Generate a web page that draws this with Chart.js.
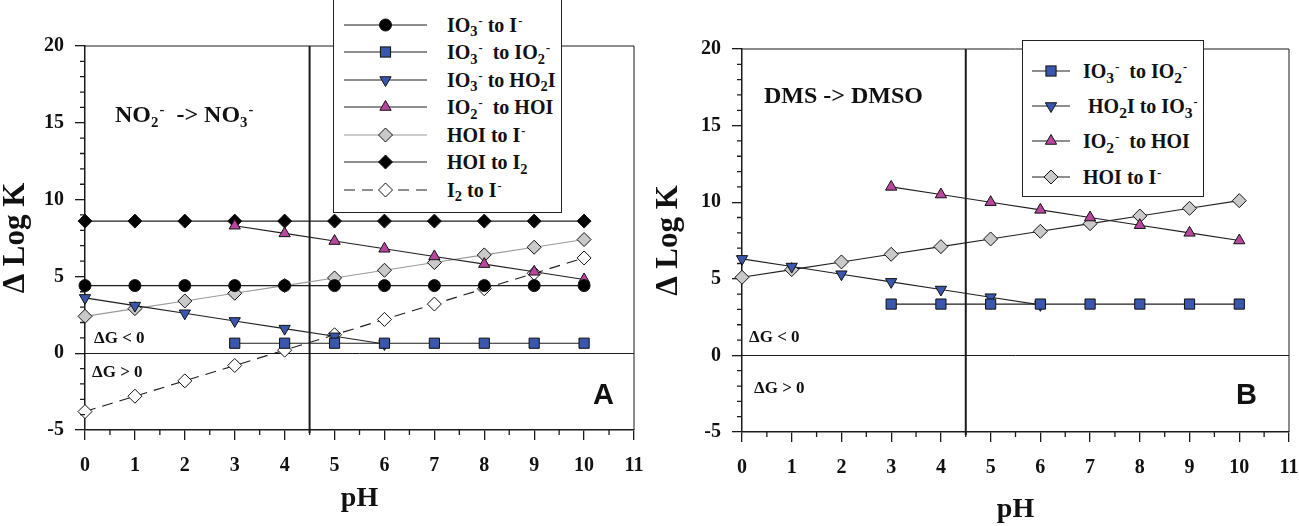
<!DOCTYPE html>
<html>
<head>
<meta charset="utf-8">
<script src="https://cdn.jsdelivr.net/npm/chart.js@4.4.1/dist/chart.umd.min.js"></script>
<style>
  body { margin: 0; background: #fff; }
  #page { position: relative; width: 1299px; height: 526px; overflow: hidden; font-family: "Liberation Serif", "Times New Roman", serif; color: #111; }
  canvas { position: absolute; top: 0; }
  #chartA { left: 0; }
  #chartB { left: 650px; }
  .note { position: absolute; font-weight: bold; white-space: nowrap; line-height: 1; }
  .letter { position: absolute; font-family: "Liberation Sans", Arial, sans-serif; font-weight: bold; font-size: 29px; line-height: 1; }
  sub, sup { font-size: 62%; position: relative; vertical-align: baseline; line-height: 0; }
  sub { top: 0.32em; }
  sup { top: -0.55em; margin-left: 1px; }
  .legend { position: absolute; border: 1px solid #222; background: #fff; box-sizing: border-box; }
  .legend .row { display: flex; align-items: center; font-weight: bold; font-size: 20px; line-height: 1; white-space: nowrap; }
  .legend svg { display: block; flex: none; }
  #legA sub { font-size: 72%; }
  #legB sub { font-size: 78%; }
</style>
</head>
<body>
<div id="page">
  <canvas id="chartA" width="650" height="526"></canvas>
  <canvas id="chartB" width="649" height="526"></canvas>

  <div id="legA" class="legend" style="left:333px; top:-1px; width:229px; height:214px; padding-top:11px;"></div>
  <div id="legB" class="legend" style="left:1022px; top:40px; width:182px; height:157px; padding-top:12px;"></div>

  <div class="note" style="left:115px; top:102px; font-size:24px;">NO<sub>2</sub><sup>-</sup>&nbsp; -&gt; NO<sub>3</sub><sup>-</sup></div>
  <div class="note" style="left:94px; top:329px; font-size:17px;">ΔG &lt; 0</div>
  <div class="note" style="left:92px; top:363px; font-size:17px;">ΔG &gt; 0</div>
  <div class="letter" style="left:593px; top:380px;">A</div>

  <div class="note" style="left:764px; top:83px; font-size:24px;">DMS -&gt; DMSO</div>
  <div class="note" style="left:749px; top:328px; font-size:17px;">ΔG &lt; 0</div>
  <div class="note" style="left:754px; top:379px; font-size:17px;">ΔG &gt; 0</div>
  <div class="letter" style="left:1236px; top:380px;">B</div>
</div>

<script>
// pH values the series are sampled at
const PH_ALL = [0, 1, 2, 3, 4, 5, 6, 7, 8, 9, 10];
const PH_FROM3 = [3, 4, 5, 6, 7, 8, 9, 10];
const PH_TO6 = [0, 1, 2, 3, 4, 5, 6];

// Panel A: NO2- -> NO3-
const A_IO3_TO_I = [4.4, 4.4, 4.4, 4.4, 4.4, 4.4, 4.4, 4.4, 4.4, 4.4, 4.4];
const A_IO3_TO_IO2 = [0.65, 0.65, 0.65, 0.65, 0.65, 0.65, 0.65, 0.65];
const A_IO3_TO_HO2I = [3.6, 3.1, 2.6, 2.1, 1.6, 1.1, 0.6];
const A_IO2_TO_HOI = [8.3, 7.8, 7.3, 6.8, 6.3, 5.8, 5.3, 4.8];
const A_HOI_TO_I = [2.4, 2.9, 3.4, 3.9, 4.4, 4.9, 5.4, 5.9, 6.4, 6.9, 7.4];
const A_HOI_TO_I2 = [8.6, 8.6, 8.6, 8.6, 8.6, 8.6, 8.6, 8.6, 8.6, 8.6, 8.6];
const A_I2_TO_I = [-3.8, -2.8, -1.8, -0.8, 0.2, 1.2, 2.2, 3.2, 4.2, 5.2, 6.2];

// Panel B: DMS -> DMSO
const B_IO3_TO_IO2 = [3.35, 3.35, 3.35, 3.35, 3.35, 3.35, 3.35, 3.35];
const B_HO2I_TO_IO3 = [6.3, 5.8, 5.3, 4.8, 4.3, 3.8, 3.3];
const B_IO2_TO_HOI = [11.0, 10.5, 10.0, 9.5, 9.0, 8.5, 8.0, 7.5];
const B_HOI_TO_I = [5.1, 5.6, 6.1, 6.6, 7.1, 7.6, 8.1, 8.6, 9.1, 9.6, 10.1];

// axis ranges and tick steps
const X_MIN = 0, X_MAX = 11, X_STEP = 1;
const Y_MIN = -5, Y_MAX = 20, Y_STEP = 5;
const PH_MARK = 4.5;

// legend texts (with sub/superscripts)
const LEGEND_A = [
  'IO<sub>3</sub><sup>-</sup> to I<sup>-</sup>',
  'IO<sub>3</sub><sup>-</sup>&nbsp; to IO<sub>2</sub><sup>-</sup>',
  'IO<sub>3</sub><sup>-</sup> to HO<sub>2</sub>I',
  'IO<sub>2</sub><sup>-</sup>&nbsp; to HOI',
  'HOI to I<sup>-</sup>',
  'HOI to I<sub>2</sub>',
  'I<sub>2</sub> to I<sup>-</sup>'
];
const LEGEND_B = [
  'IO<sub>3</sub><sup>-</sup>&nbsp; to IO<sub>2</sub><sup>-</sup>',
  '&nbsp;HO<sub>2</sub>I to IO<sub>3</sub><sup>-</sup>',
  'IO<sub>2</sub><sup>-</sup>&nbsp; to HOI',
  'HOI to I<sup>-</sup>'
];

const TEXT = '#111';
const AXIS = '#1a1a1a';
const LINE = '#1e1e1e';
const BLUE = '#3a57ad';
const MAGENTA = '#b8479e';
const GREY = '#c9c9c9';

const MARK = {
  circle:  { pointStyle: 'circle', pointRadius: 6, pointBackgroundColor: '#000' },
  square:  { pointStyle: 'rect', pointRadius: 7.2, pointBackgroundColor: BLUE },
  down:    { pointStyle: 'triangle', pointRotation: 180, pointRadius: 6.5, pointBackgroundColor: BLUE },
  up:      { pointStyle: 'triangle', pointRadius: 6.5, pointBackgroundColor: MAGENTA },
  grey:    { pointStyle: 'rectRot', pointRadius: 7, pointBackgroundColor: GREY },
  black:   { pointStyle: 'rectRot', pointRadius: 7, pointBackgroundColor: '#000' },
  open:    { pointStyle: 'rectRot', pointRadius: 7, pointBackgroundColor: '#fff' }
};

function series(label, xs, ys, mark, extra) {
  return Object.assign({
    label: label,
    data: xs.map((x, i) => ({ x: x, y: ys[i] })),
    borderColor: LINE,
    borderWidth: 1.1,
    pointBorderColor: '#111',
    pointBorderWidth: 1,
    pointHoverRadius: 7,
    tension: 0,
    fill: false,
    clip: false
  }, mark, extra || {});
}

const datasetsA = [
  series('IO3- to I-', PH_ALL, A_IO3_TO_I, MARK.circle),
  series('IO3- to IO2-', PH_FROM3, A_IO3_TO_IO2, MARK.square),
  series('IO3- to HO2I', PH_TO6, A_IO3_TO_HO2I, MARK.down),
  series('IO2- to HOI', PH_FROM3, A_IO2_TO_HOI, MARK.up),
  series('HOI to I-', PH_ALL, A_HOI_TO_I, MARK.grey, { borderColor: '#9a9a9a' }),
  series('HOI to I2', PH_ALL, A_HOI_TO_I2, MARK.black),
  series('I2 to I-', PH_ALL, A_I2_TO_I, MARK.open, { borderDash: [11, 7] })
];

const datasetsB = [
  series('IO3- to IO2-', PH_FROM3, B_IO3_TO_IO2, MARK.square),
  series('HO2I to IO3-', PH_TO6, B_HO2I_TO_IO3, MARK.down),
  series('IO2- to HOI', PH_FROM3, B_IO2_TO_HOI, MARK.up),
  series('HOI to I-', PH_ALL, B_HOI_TO_I, MARK.grey)
];

// frame, zero line, pH 4.5 line and minor ticks
const framePlugin = {
  id: 'frame',
  beforeDatasetsDraw(chart) {
    const { ctx, chartArea: a, scales: { x, y } } = chart;
    ctx.save();
    ctx.strokeStyle = AXIS;
    ctx.lineWidth = 1;
    ctx.beginPath();
    ctx.moveTo(a.left, a.top);
    ctx.lineTo(a.right, a.top);
    ctx.lineTo(a.right, a.bottom);
    ctx.stroke();

    const y0 = Math.round(y.getPixelForValue(0)) + 0.5;
    ctx.beginPath();
    ctx.moveTo(a.left, y0);
    ctx.lineTo(a.right, y0);
    ctx.stroke();

    const xm = x.getPixelForValue(PH_MARK);
    ctx.lineWidth = 2;
    ctx.beginPath();
    ctx.moveTo(xm, a.top);
    ctx.lineTo(xm, a.bottom + 3);
    ctx.stroke();
    ctx.restore();
  },
  afterDraw(chart) {
    const { ctx, chartArea: a, scales: { x, y } } = chart;
    ctx.save();
    ctx.strokeStyle = AXIS;
    ctx.lineWidth = 1.3;
    ctx.beginPath();
    for (let i = X_MIN; i < X_MAX; i++) {
      const px = x.getPixelForValue(i + 0.5);
      ctx.moveTo(px, a.bottom);
      ctx.lineTo(px, a.bottom + 5);
    }
    for (let v = Y_MIN; v <= Y_MAX; v++) {
      if (v % Y_STEP === 0) continue;
      const py = y.getPixelForValue(v);
      ctx.moveTo(a.left - 5, py);
      ctx.lineTo(a.left, py);
    }
    ctx.stroke();
    ctx.restore();
  }
};

function makeChart(id, datasets, g) {
  return new Chart(document.getElementById(id), {
    type: 'line',
    data: { datasets: datasets },
    options: {
      responsive: false,
      animation: false,
      devicePixelRatio: 1,
      layout: { padding: { left: 0, top: g.top, right: g.right, bottom: 0 } },
      plugins: { legend: { display: false }, tooltip: { enabled: false } },
      scales: {
        x: {
          type: 'linear',
          min: X_MIN, max: X_MAX,
          ticks: { stepSize: X_STEP, padding: 14, color: TEXT, maxRotation: 0, autoSkip: false,
                   font: { family: '"Liberation Serif", serif', size: 20, weight: 'bold' } },
          grid: { drawOnChartArea: false, drawTicks: true, tickLength: 10, color: AXIS, lineWidth: 1.3 },
          border: { display: true, color: AXIS, width: 1.5 },
          title: { display: true, text: 'pH', color: TEXT,
                   font: { family: '"Liberation Serif", serif', size: 28, weight: 'bold', lineHeight: 1 },
                   padding: { top: 0, bottom: g.xTitlePad } },
          afterFit(s) { s.height = g.xHeight; s.paddingLeft = 0; s.paddingRight = 0; }
        },
        y: {
          type: 'linear',
          min: Y_MIN, max: Y_MAX,
          ticks: { stepSize: Y_STEP, padding: 11, color: TEXT,
                   font: { family: '"Liberation Serif", serif', size: 20, weight: 'bold' } },
          grid: { drawOnChartArea: false, drawTicks: true, tickLength: 10, color: AXIS, lineWidth: 1.3 },
          border: { display: true, color: AXIS, width: 1.5 },
          title: { display: true, text: 'Δ Log K', color: TEXT,
                   font: { family: '"Liberation Serif", serif', size: 31, weight: 'bold', lineHeight: 1 },
                   padding: { top: g.yTitlePad, bottom: 0 } },
          afterFit(s) { s.width = g.yWidth; s.paddingTop = 0; s.paddingBottom = 0; }
        }
      }
    },
    plugins: [framePlugin]
  });
}

const chartA = makeChart('chartA', datasetsA, { top: 46, right: 16, yWidth: 85, xHeight: 96, xTitlePad: 13, yTitlePad: 0 });
const chartB = makeChart('chartB', datasetsB, { top: 49, right: 10, yWidth: 92, xHeight: 94, xTitlePad: 2, yTitlePad: 3 });

// legend sample: line plus the dataset's marker
function markerSvg(ds, w) {
  const h = 20, cx = w / 2, cy = h / 2, r = ds.pointRadius;
  let shape = '';
  if (ds.pointStyle === 'circle') {
    shape = `<circle cx="${cx}" cy="${cy}" r="${r}"/>`;
  } else if (ds.pointStyle === 'rect') {
    const s = r * Math.SQRT1_2;
    shape = `<rect x="${cx - s}" y="${cy - s}" width="${2 * s}" height="${2 * s}"/>`;
  } else if (ds.pointStyle === 'rectRot') {
    shape = `<polygon points="${cx},${cy - r} ${cx + r},${cy} ${cx},${cy + r} ${cx - r},${cy}"/>`;
  } else {
    const rot = ds.pointRotation || 0;
    const pts = [0, 120, 240].map(a => {
      const rad = (a + rot) * Math.PI / 180;
      return `${cx + Math.sin(rad) * r},${cy - Math.cos(rad) * r}`;
    }).join(' ');
    shape = `<polygon points="${pts}"/>`;
  }
  const dash = ds.borderDash ? `stroke-dasharray="${ds.borderDash.join(',')}"` : '';
  return `<svg width="${w}" height="${h}"><line x1="0" y1="${cy}" x2="${w}" y2="${cy}" stroke="${ds.borderColor}" stroke-width="1.2" ${dash}/>` +
         `<g fill="${ds.pointBackgroundColor}" stroke="${ds.pointBorderColor}" stroke-width="1">${shape}</g></svg>`;
}

function buildLegend(id, chart, labels, opt) {
  const box = document.getElementById(id);
  chart.data.datasets.forEach((ds, i) => {
    const row = document.createElement('div');
    row.className = 'row';
    row.style.height = opt.rowHeight + 'px';
    row.innerHTML = `<span style="margin-left:${opt.indent}px">${markerSvg(ds, opt.sample)}</span>` +
                    `<span style="margin-left:${opt.gap}px">${labels[i]}</span>`;
    box.appendChild(row);
  });
}

buildLegend('legA', chartA, LEGEND_A, { rowHeight: 27.5, indent: 10, sample: 83, gap: 20 });
buildLegend('legB', chartB, LEGEND_B, { rowHeight: 35.3, indent: 9, sample: 38, gap: 13 });
</script>
</body>
</html>
